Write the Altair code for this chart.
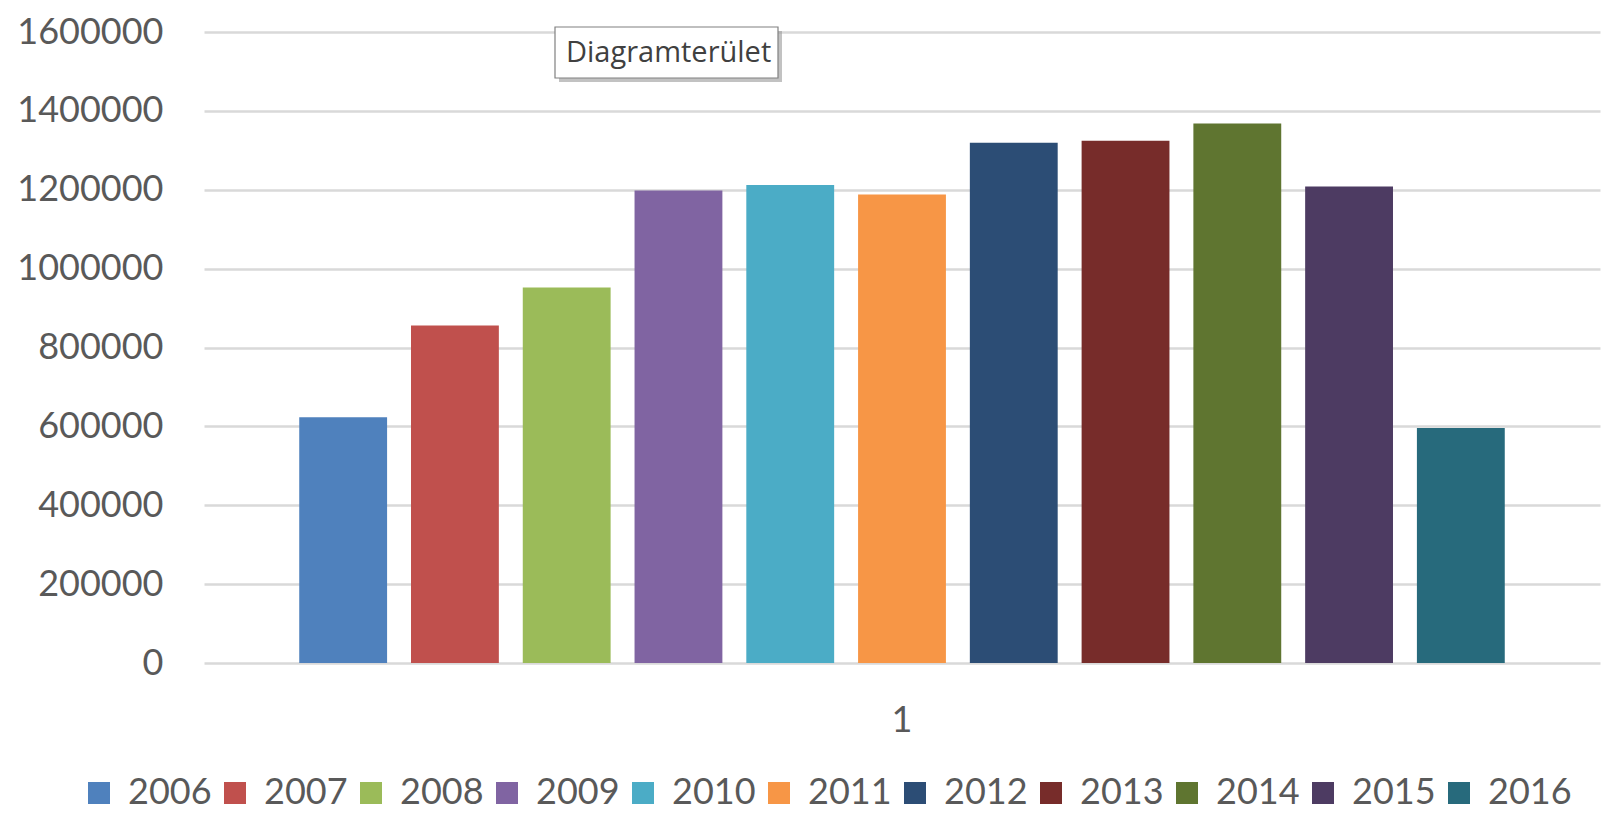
import altair as alt
import pandas as pd

# ---- data ----
category = "1"
years = ["2006", "2007", "2008", "2009", "2010", "2011",
         "2012", "2013", "2014", "2015", "2016"]
values = [623000, 856000, 952000, 1198000, 1212000, 1188000,
          1319000, 1324000, 1368000, 1208000, 596000]
colors = ["#4F81BD", "#C0504D", "#9BBB59", "#8064A2", "#4BACC6", "#F79646",
          "#2C4D75", "#772C2A", "#5F7530", "#4D3B62", "#276A7C"]
y_ticks = [0, 200000, 400000, 600000, 800000, 1000000, 1200000, 1400000, 1600000]
tooltip_text = "Diagramterület"

df = pd.DataFrame({"cat": [category] * len(years), "year": years, "value": values})
one = pd.DataFrame({"a": [0]})

FONT = "Lato"
GRAY = "#595959"

bars = alt.Chart(df).mark_bar().encode(
    x=alt.X("cat:N",
            scale=alt.Scale(paddingInner=0, paddingOuter=0.079),
            axis=alt.Axis(title=None, labelAngle=0, ticks=False, domain=False,
                          labelPadding=40, labelFontSize=36, labelColor=GRAY,
                          labelFont=FONT, grid=False)),
    xOffset=alt.XOffset("year:N", sort=years,
                        scale=alt.Scale(paddingInner=0.214, paddingOuter=0)),
    y=alt.Y("value:Q",
            scale=alt.Scale(domain=[0, 1600000], nice=False),
            axis=alt.Axis(values=y_ticks, format="d", title=None, ticks=False,
                          domain=False, labelPadding=41, labelFontSize=36,
                          labelColor=GRAY, labelFont=FONT,
                          gridColor="#d9d9d9", gridWidth=2.5)),
    color=alt.Color("year:N",
                    scale=alt.Scale(domain=years, range=colors),
                    legend=alt.Legend(title=None, orient="none",
                                      legendX=-123, legendY=743,
                                      direction="horizontal", columns=11,
                                      symbolType="square", symbolSize=484,
                                      symbolStrokeWidth=0, symbolOpacity=1,
                                      labelFontSize=36, labelFont=FONT,
                                      labelColor=GRAY, labelOffset=11,
                                      columnPadding=5)),
)

shadow = alt.Chart(one).mark_rect(fill="#9a9a9a", opacity=0.6).encode(
    x=alt.value(355), x2=alt.value(578), y=alt.value(-1), y2=alt.value(50))
box = alt.Chart(one).mark_rect(fill="white", stroke="#808080", strokeWidth=1.2).encode(
    x=alt.value(351), x2=alt.value(574), y=alt.value(-5), y2=alt.value(46))
label = alt.Chart(one).mark_text(
    text=tooltip_text, font="Open Sans", fontSize=29, color="#404040",
    align="left", baseline="middle").encode(
    x=alt.value(362), y=alt.value(21))

chart = alt.layer(bars, shadow, box, label).properties(
    width=1396, height=631,
    autosize=alt.AutoSizeParams(type="none"),
    padding={"left": 196, "top": 24, "right": 2, "bottom": 151},
    background="white",
).configure_view(stroke=None)

chart.save("out.html", embed_options={"renderer": "svg", "actions": False})
